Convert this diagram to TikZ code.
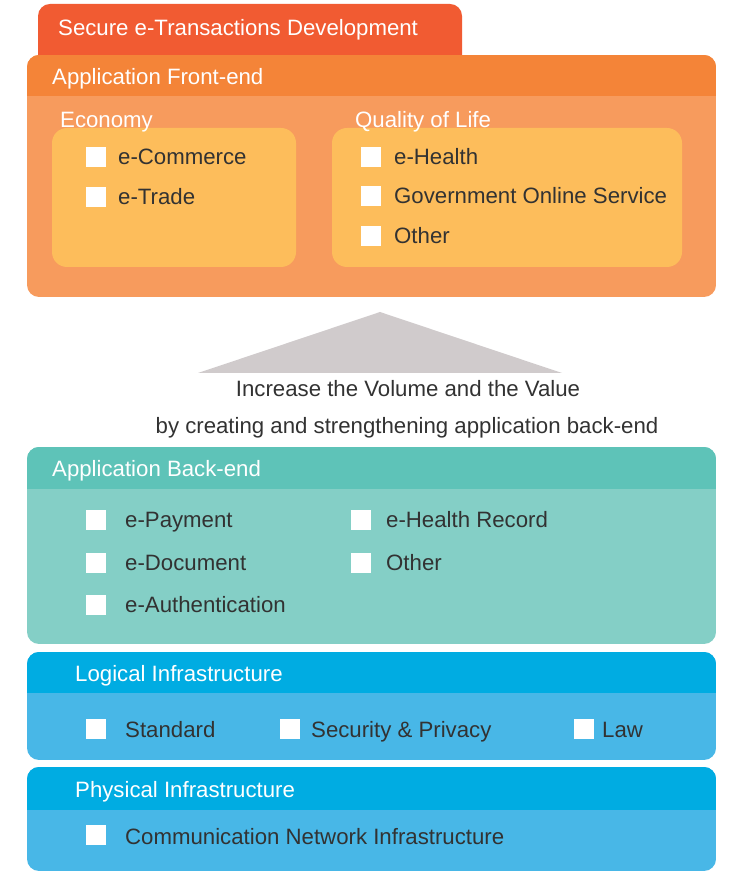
\documentclass[tikz,border=0pt]{standalone}
\usepackage{fontspec}
\setmainfont{Liberation Sans}
\definecolor{tabred}{RGB}{241,91,50}
\definecolor{fronthead}{RGB}{244,132,56}
\definecolor{frontbody}{RGB}{247,155,93}
\definecolor{innerbox}{RGB}{253,189,91}
\definecolor{arrowgray}{RGB}{208,203,204}
\definecolor{backhead}{RGB}{94,195,184}
\definecolor{backbody}{RGB}{132,207,198}
\definecolor{infrahead}{RGB}{0,172,226}
\definecolor{infrabody}{RGB}{72,183,231}
\definecolor{itemgray}{RGB}{50,50,50}
\begin{document}
\begin{tikzpicture}[line join=bevel,
  chk/.style={fill=white,rectangle,minimum size=20bp,inner sep=0pt},
  item/.style={anchor=west,inner sep=0pt,text height=16bp,text depth=0pt,text=itemgray,font=\fontsize{22.3}{26}\selectfont},
  head/.style={item,text=white},
  ]
%%
\useasboundingbox (0bp,0bp) rectangle (732bp,872bp);
%% front-end
\fill[tabred,rounded corners=12bp] (38bp,805bp) rectangle (462bp,868bp);
\begin{scope}
  \clip[rounded corners=12bp] (27bp,575bp) rectangle (716bp,817bp);
  \fill[frontbody] (27bp,575bp) rectangle (716bp,817bp);
  \fill[fronthead] (27bp,776bp) rectangle (716bp,817bp);
\end{scope}
\fill[innerbox,rounded corners=15bp] (52bp,605bp) rectangle (296bp,744bp);
\fill[innerbox,rounded corners=15bp] (332bp,605bp) rectangle (682bp,744bp);
  \node (secure) at (58bp,844bp) [head] {Secure e-Transactions Development};
  \node (front) at (52bp,795bp) [head] {Application Front-end};
  \node (economy) at (60bp,752bp) [head] {Economy};
  \node (quality) at (355bp,752bp) [head] {Quality of Life};
  \node (chk_commerce) at (96bp,715bp) [chk] {};
  \node (chk_trade) at (96bp,675bp) [chk] {};
  \node (chk_health) at (371bp,715bp) [chk] {};
  \node (chk_gov) at (371bp,676bp) [chk] {};
  \node (chk_other1) at (371bp,636bp) [chk] {};
  \node (commerce) at (118bp,715bp) [item] {e-Commerce};
  \node (trade) at (118bp,675bp) [item] {e-Trade};
  \node (health) at (394bp,715bp) [item] {e-Health};
  \node (gov) at (394bp,676bp) [item] {Government Online Service};
  \node (other1) at (394bp,636bp) [item] {Other};
%% arrow
\fill[arrowgray] (198bp,499bp) -- (380bp,560bp) -- (562bp,499bp) -- cycle;
  \node (increase) at (408bp,483bp) [item,anchor=center] {Increase the Volume and the Value};
  \node (creating) at (407bp,446bp) [item,anchor=center] {by creating and strengthening application back-end};
%% back-end
\begin{scope}
  \clip[rounded corners=12bp] (27bp,228bp) rectangle (716bp,425bp);
  \fill[backbody] (27bp,228bp) rectangle (716bp,425bp);
  \fill[backhead] (27bp,383bp) rectangle (716bp,425bp);
\end{scope}
  \node (back) at (52bp,403bp) [head] {Application Back-end};
  \node (chk_payment) at (96bp,352bp) [chk] {};
  \node (chk_document) at (96bp,309bp) [chk] {};
  \node (chk_auth) at (96bp,267bp) [chk] {};
  \node (chk_record) at (361bp,352bp) [chk] {};
  \node (chk_other2) at (361bp,309bp) [chk] {};
  \node (payment) at (125bp,352bp) [item] {e-Payment};
  \node (document) at (125bp,309bp) [item] {e-Document};
  \node (auth) at (125bp,267bp) [item] {e-Authentication};
  \node (record) at (386bp,352bp) [item] {e-Health Record};
  \node (other2) at (386bp,309bp) [item] {Other};
%% logical
\begin{scope}
  \clip[rounded corners=12bp] (27bp,112bp) rectangle (716bp,220bp);
  \fill[infrabody] (27bp,112bp) rectangle (716bp,220bp);
  \fill[infrahead] (27bp,179bp) rectangle (716bp,220bp);
\end{scope}
  \node (logical) at (75bp,198bp) [head] {Logical Infrastructure};
  \node (chk_standard) at (96bp,143bp) [chk] {};
  \node (chk_security) at (290bp,143bp) [chk] {};
  \node (chk_law) at (584bp,143bp) [chk] {};
  \node (standard) at (125bp,142bp) [item] {Standard};
  \node (security) at (311bp,142bp) [item] {Security \& Privacy};
  \node (law) at (602bp,142bp) [item] {Law};
%% physical
\begin{scope}
  \clip[rounded corners=12bp] (27bp,1bp) rectangle (716bp,105bp);
  \fill[infrabody] (27bp,1bp) rectangle (716bp,105bp);
  \fill[infrahead] (27bp,62bp) rectangle (716bp,105bp);
\end{scope}
  \node (physical) at (75bp,82bp) [head] {Physical Infrastructure};
  \node (chk_network) at (96bp,37bp) [chk] {};
  \node (network) at (125bp,36bp) [item] {Communication Network Infrastructure};
%
\end{tikzpicture}
\end{document}
